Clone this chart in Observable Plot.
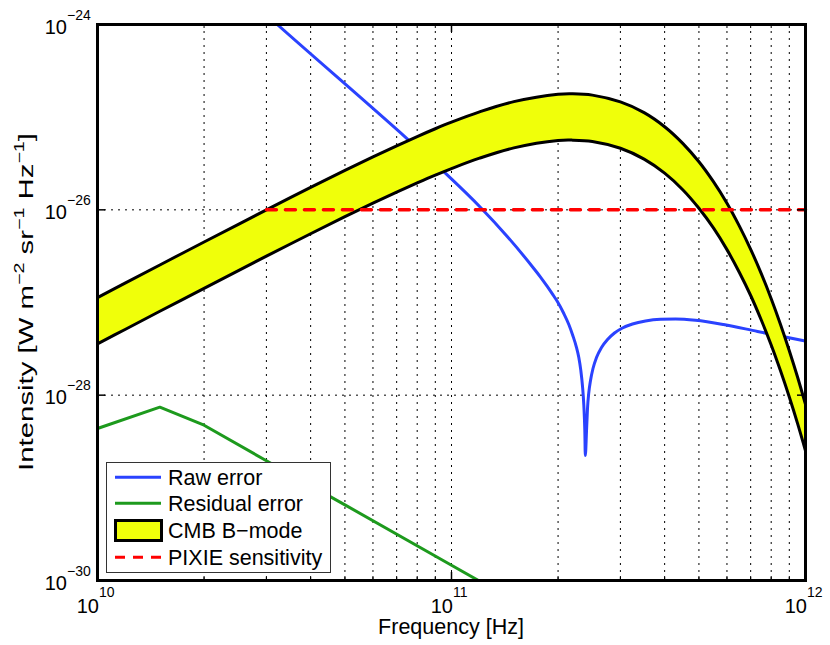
<!DOCTYPE html>
<html>
<head>
<meta charset="utf-8">
<script src="https://cdn.jsdelivr.net/npm/d3@7"></script>
<script src="https://cdn.jsdelivr.net/npm/@observablehq/plot@0.6"></script>
<style>
  body { margin: 0; background: #fff; }
  #wrap { position: relative; width: 830px; height: 645px; font-family: "Liberation Sans", Arial, Helvetica, sans-serif; }
  #legend { position: absolute; left: 106px; top: 462px; }
</style>
</head>
<body>
<div id="wrap"></div>
<script>
// ---------- data (frequencies in GHz, intensities in W m^-2 sr^-1 Hz^-1) ----------
const bandFreqGHz = [10,12,15,20,25,30,40,50,60,70,80,90,100,120,150,200,220,250,300,350,400,450,500,550,600,650,700,750,800,850,900,950,1000];
const bandUpper = [1.13e-27,1.63e-27,2.54e-27,4.50e-27,6.98e-27,1.00e-26,1.75e-26,2.67e-26,3.73e-26,4.91e-26,6.18e-26,7.50e-26,8.83e-26,1.14e-25,1.47e-25,1.77e-25,1.79e-25,1.73e-25,1.46e-25,1.12e-25,7.89e-26,5.22e-26,3.30e-26,2.00e-26,1.18e-26,6.72e-27,3.75e-27,2.05e-27,1.10e-27,5.80e-28,3.02e-28,1.56e-28,7.94e-29];
const bandLower = [3.58e-28,5.15e-28,8.04e-28,1.42e-27,2.21e-27,3.16e-27,5.52e-27,8.43e-27,1.18e-26,1.55e-26,1.95e-26,2.37e-26,2.79e-26,3.61e-26,4.66e-26,5.60e-26,5.65e-26,5.47e-26,4.62e-26,3.53e-26,2.49e-26,1.65e-26,1.04e-26,6.34e-27,3.72e-27,2.12e-27,1.19e-27,6.47e-28,3.48e-28,1.83e-28,9.55e-29,4.93e-29,2.51e-29];

const rawFreqGHz = [30,32.19,74.97,97.24,120.8,143.7,170.8,178.4,186.4,192.9,198.9,207.6,214.5,220.1,225.1,228.9,231.9,234.5,236.5,238.0,238.8,240.7,242.2,244.3,247.0,251.0,256.8,265.3,275.9,288.7,304.1,324.6,353.2,389.5,429.4,489.0,586.7,731.9,1000];
const rawError = [1.27e-24,1.0e-24,5.84e-26,2.38e-26,1.06e-26,5.16e-27,2.33e-27,1.88e-27,1.49e-27,1.23e-27,1.03e-27,7.61e-28,5.79e-28,4.41e-28,3.35e-28,2.55e-28,1.85e-28,1.24e-28,7.74e-29,4.16e-29,2.23e-29,4.16e-29,7.18e-29,1.07e-28,1.44e-28,1.94e-28,2.55e-28,3.27e-28,3.99e-28,4.69e-28,5.31e-28,5.86e-28,6.32e-28,6.59e-28,6.64e-28,6.43e-28,5.79e-28,4.87e-28,3.84e-28];

const resFreqGHz = [10,15,20,30,50,100,150];
const residualError = [4.37e-29,7.42e-29,4.74e-29,1.96e-29,6.55e-30,1.46e-30,6.08e-31];

const pixieFreqGHz = [30,1000];
const pixieSensitivity = [1e-26,1e-26];

// ticks
const xMajor = [1e10,1e11,1e12];
const xExponents = ["10","11","12"];
const xMinor = [2e10,3e10,4e10,5e10,6e10,7e10,8e10,9e10,2e11,3e11,4e11,5e11,6e11,7e11,8e11,9e11];
const xGrid = [2e10,3e10,4e10,5e10,6e10,7e10,8e10,9e10,1e11,2e11,3e11,4e11,5e11,6e11,7e11,8e11,9e11];
const yMajor = [1e-30,1e-28,1e-26,1e-24];
const yExponents = ["−30","−28","−26","−24"];
const yGrid = [1e-28,1e-26];

const legendLabels = ["Raw error","Residual error","CMB B−mode","PIXIE sensitivity"];

// colours
const BLUE = "#2a42ff", GREEN = "#1d9a1d", YELLOW = "#f0ff0a", RED = "#ff0000";

const band = bandFreqGHz.map((f,i)=>({f:f*1e9, hi:bandUpper[i], lo:bandLower[i]}));
const raw = rawFreqGHz.map((f,i)=>({f:f*1e9, v:rawError[i]}));
const res = resFreqGHz.map((f,i)=>({f:f*1e9, v:residualError[i]}));
const pixie = pixieFreqGHz.map((f,i)=>({f:f*1e9, v:pixieSensitivity[i]}));

const FONT = "Liberation Sans, Arial, Helvetica, sans-serif";

const chart = Plot.plot({
  width: 830, height: 645,
  marginLeft: 97, marginRight: 25, marginTop: 24, marginBottom: 65,
  x: {type: "log", domain: [1e10, 1e12], axis: null},
  y: {type: "log", domain: [1e-30, 1e-24], axis: null},
  style: {background: "white", fontFamily: FONT},
  marks: [
    Plot.ruleX(xGrid, {stroke: "#000", strokeWidth: 1, strokeDasharray: "2,5"}),
    Plot.ruleY(yGrid, {stroke: "#000", strokeWidth: 1, strokeDasharray: "2,5"}),
    Plot.line(raw, {x: "f", y: "v", stroke: BLUE, strokeWidth: 3, curve: "monotone-x", clip: true}),
    Plot.line(res, {x: "f", y: "v", stroke: GREEN, strokeWidth: 3, clip: true}),
    Plot.areaY(band, {x: "f", y1: "lo", y2: "hi", fill: YELLOW, curve: "catmull-rom"}),
    Plot.line(band, {x: "f", y: "hi", stroke: "black", strokeWidth: 3, curve: "catmull-rom"}),
    Plot.line(band, {x: "f", y: "lo", stroke: "black", strokeWidth: 3, curve: "catmull-rom"}),
    Plot.line(pixie, {x: "f", y: "v", stroke: RED, strokeWidth: 3.5, strokeDasharray: "10,9"}),
    // inward ticks
    Plot.ruleX(xMinor, {stroke: "black", strokeWidth: 1, insetTop: 552}),
    Plot.ruleX(xMinor, {stroke: "black", strokeWidth: 1, insetBottom: 552}),
    Plot.ruleX([1e11], {stroke: "black", strokeWidth: 1.5, insetTop: 548}),
    Plot.ruleX([1e11], {stroke: "black", strokeWidth: 1.5, insetBottom: 548}),
    Plot.ruleY(yGrid, {stroke: "black", strokeWidth: 1.5, insetRight: 700}),
    Plot.ruleY(yGrid, {stroke: "black", strokeWidth: 1.5, insetLeft: 700}),
    Plot.frame({stroke: "black", strokeWidth: 3})
  ]
});

document.getElementById("wrap").appendChild(chart);

const sx = chart.scale("x").apply, sy = chart.scale("y").apply;
const svg = d3.select(chart);
const yBottom = sy(1e-30);

// x tick labels
xMajor.forEach((v,i)=>{
  const x = sx(v);
  svg.append("text").attr("x", x + 2).attr("y", yBottom + 33).attr("text-anchor","end")
    .attr("font-size", 20).attr("font-family", FONT).attr("fill","black").text("10");
  svg.append("text").attr("x", x + 2).attr("y", yBottom + 17).attr("text-anchor","start")
    .attr("font-size", 14).attr("font-family", FONT).attr("fill","black").text(xExponents[i]);
});
// y tick labels
const xLeft = sx(1e10);
yMajor.forEach((v,i)=>{
  const y = sy(v);
  svg.append("text").attr("x", xLeft - 30).attr("y", y + 9.5).attr("text-anchor","end")
    .attr("font-size", 20).attr("font-family", FONT).attr("fill","black").text("10");
  svg.append("text").attr("x", xLeft - 30).attr("y", y - 4.5).attr("text-anchor","start")
    .attr("font-size", 14).attr("font-family", FONT).attr("fill","black").text(yExponents[i]);
});
// x label
svg.append("text").attr("x", sx(1e11)).attr("y", yBottom + 54).attr("text-anchor","middle")
  .attr("font-size", 21.5).attr("font-family", FONT).attr("fill","black").text("Frequency [Hz]");
// y label
const yMid = (sy(1e-30) + sy(1e-24)) / 2;
const yl = svg.append("text").attr("text-anchor","middle").attr("font-size", 21)
  .attr("font-family", FONT).attr("fill","black");
yl.append("tspan").text("Intensity [W m");
yl.append("tspan").attr("dy", -9).attr("font-size", 14).text("−2");
yl.append("tspan").attr("dy", 9).text(" sr");
yl.append("tspan").attr("dy", -9).attr("font-size", 14).text("−1");
yl.append("tspan").attr("dy", 9).text(" Hz");
yl.append("tspan").attr("dy", -9).attr("font-size", 14).text("−1");
yl.append("tspan").attr("dy", 9).text("]");
const len = yl.node().getComputedTextLength() || 242;
const s = 338 / len;
yl.attr("transform", `translate(${xLeft - 64},${yMid}) rotate(-90) scale(${s},1)`);

// legend
const lg = d3.select("#wrap").append("svg").attr("id","legend").attr("width", 226).attr("height", 112);
lg.append("rect").attr("x",0.5).attr("y",0.5).attr("width",224).attr("height",110)
  .attr("fill","white").attr("stroke","#333").attr("stroke-width",1);
const rowsY = [15.3, 41.3, 68.3, 95.3];
lg.append("line").attr("x1",9).attr("x2",55).attr("y1",rowsY[0]).attr("y2",rowsY[0]).attr("stroke",BLUE).attr("stroke-width",3);
lg.append("line").attr("x1",9).attr("x2",55).attr("y1",rowsY[1]).attr("y2",rowsY[1]).attr("stroke",GREEN).attr("stroke-width",3);
lg.append("rect").attr("x",9.5).attr("y",58.5).attr("width",46).attr("height",20).attr("fill",YELLOW).attr("stroke","black").attr("stroke-width",3);
lg.append("line").attr("x1",9).attr("x2",55).attr("y1",rowsY[3]).attr("y2",rowsY[3]).attr("stroke",RED).attr("stroke-width",3).attr("stroke-dasharray","10,8");
legendLabels.forEach((t,i)=>{
  lg.append("text").attr("x",62).attr("y",rowsY[i]+7.6).attr("font-size",21.5)
    .attr("font-family",FONT).attr("fill","black").text(t);
});
</script>
</body>
</html>
